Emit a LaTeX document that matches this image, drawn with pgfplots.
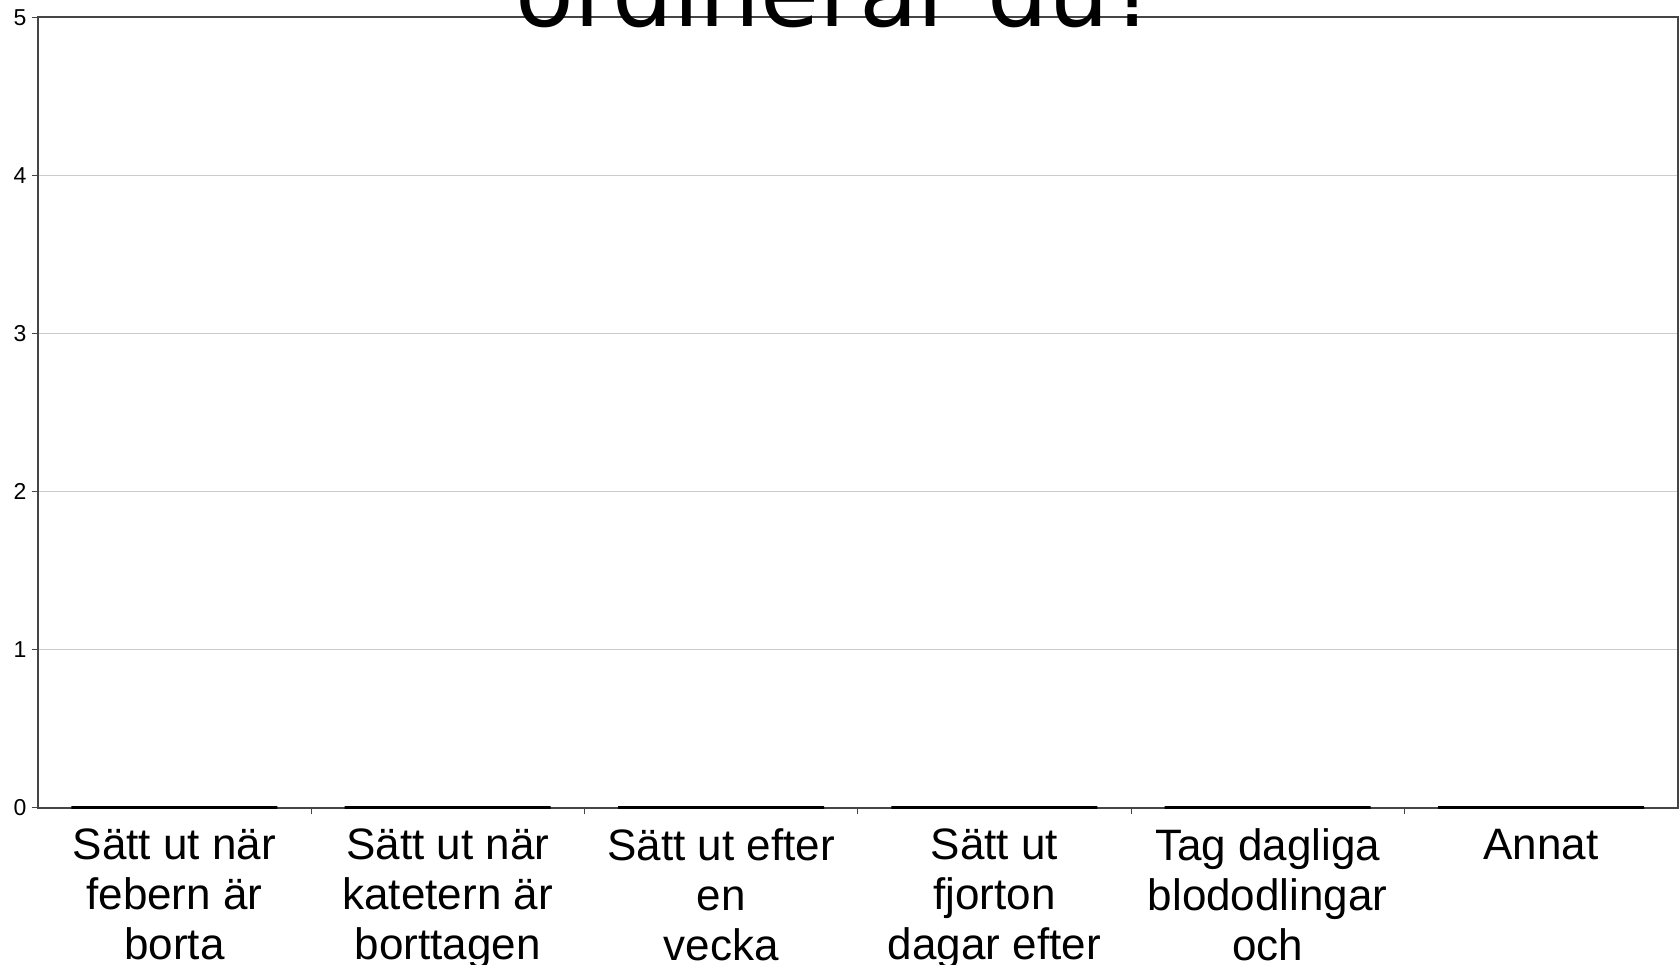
\documentclass[border=0pt]{standalone}
\usepackage{fontspec}
\setmainfont{Liberation Sans}
\newfontfamily\titlefont{DejaVu Sans}
\usepackage{pgfplots}
\pgfplotsset{compat=1.18}
\definecolor{axgray}{HTML}{454545}
\definecolor{gridgray}{HTML}{CCCCCC}
\begin{document}
\begin{tikzpicture}[x=1pt,y=1pt]
\useasboundingbox (0,0) rectangle (1679,965);
\begin{axis}[
  at={(37.7pt,157.3pt)}, anchor=south west,
  width=1640pt, height=790.4pt, scale only axis,
  xmin=-0.5, xmax=5.5, ymin=0, ymax=5,
  ytick={0,1,2,3,4,5},
  xtick={0,1,2,3,4,5},
  xticklabels={
    {Sätt ut när\\febern är\\borta},
    {Sätt ut när\\katetern är\\borttagen},
    {Sätt ut efter\\en\\vecka},
    {Sätt ut\\fjorton\\dagar efter},
    {Tag dagliga\\blododlingar\\och},
    {Annat}},
  minor xtick={0.5,1.5,2.5,3.5,4.5},
  x tick style={draw=none},
  minor x tick style={draw=axgray, line width=1pt},
  minor tick length=6pt,
  y tick style={draw=axgray, line width=1pt},
  major tick length=6pt,
  tick align=outside,
  xtick pos=bottom, ytick pos=left,
  ymajorgrids, grid style={gridgray, line width=1.5pt},
  axis line style={axgray, line width=2pt},
  /pgf/number format/assume math mode=true,
  yticklabel style={font=\fontsize{23}{25}\selectfont, anchor=east, inner sep=0pt, xshift=-5pt},
  xticklabel style={font=\fontsize{44}{50}\selectfont, align=center, anchor=north, inner sep=0pt, yshift=-15pt},
  ybar, bar width=206pt,
  clip=false,
]
\addplot[draw=black, fill=none, line width=3pt] coordinates {(0,0) (1,0) (2,0) (3,0) (4,0) (5,0)};
\end{axis}
\node[anchor=base, inner sep=0pt, font=\titlefont\fontsize{96}{114}\selectfont] at (838,938) {ordinerar du?};
\end{tikzpicture}
\end{document}
